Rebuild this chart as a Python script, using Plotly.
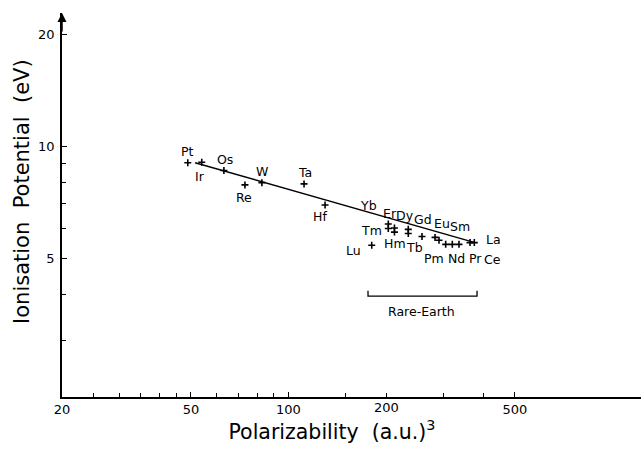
import math
import plotly.graph_objects as go

# --- data ---
metals = ["Pt", "Ir", "Os", "Re", "W", "Ta", "Hf"]
metal_pol = [48.9, 54.0, 63.2, 73.4, 82.8, 111.7, 129.7]
metal_ip = [9.02, 9.04, 8.59, 7.86, 7.97, 7.91, 6.94]

rare = ["Lu", "Yb", "Tm", "Er", "Hm", "Dy", "Tb", "Gd", "Eu", "Sm", "Pm", "Nd", "Pr", "Ce", "La"]
rare_pol = [180.7, 203.3, 203.3, 212.4, 212.4, 234.3, 234.3, 258.3, 283.4, 291.5, 305.7, 320.4, 336.0, 363.4, 374.6]
rare_ip = [5.41, 6.17, 6.00, 6.02, 5.87, 5.97, 5.82, 5.71, 5.68, 5.58, 5.44, 5.44, 5.44, 5.50, 5.50]

fit_pol = [51.5, 376.5]
fit_ip = [9.02, 5.50]

bracket_pol = [176.0, 176.0, 381.9, 381.9]
bracket_ip = [4.08, 3.95, 3.95, 4.08]
bracket_label = "Rare-Earth"
bracket_label_pol = 258.3
bracket_label_ip = 3.60

x_major = [20, 50, 100, 500]
x_major_text = ["20", "50", "100", "500"]
x_extra_label = 200          # drawn as a separate text label below the axis
x_minor = [25, 30, 35, 40, 45, 60, 70, 80, 90, 150, 200, 300, 400]
y_major = [5, 10, 20]
y_major_text = ["5", "10", "20"]
y_minor = [3, 4, 6, 7, 8, 9]

# label offsets (pixels) relative to each point
label_shift = {
    "Pt": (0, 11), "Ir": (-2, -14), "Os": (1, 11), "Re": (-1, -13), "W": (0, 11),
    "Ta": (1, 11), "Hf": (-5, -11),
    "Lu": (-18, -5), "Yb": (-20, 19), "Tm": (-17, -2), "Er": (-4, 15), "Hm": (1, -11),
    "Dy": (-3, 14), "Tb": (6, -14), "Gd": (1, 17), "Eu": (7, 14), "Sm": (21, 14),
    "Pm": (-12, -14), "Nd": (4, -14), "Pr": (16, -14), "Ce": (22, -17), "La": (19, 3),
}

FONT = "DejaVu Sans"

fig = go.Figure()
fig.add_trace(go.Scatter(x=fit_pol, y=fit_ip, mode="lines",
                         line=dict(color="black", width=1.5), showlegend=False, hoverinfo="skip"))
fig.add_trace(go.Scatter(x=metal_pol + rare_pol, y=metal_ip + rare_ip, mode="markers",
                         marker=dict(symbol="cross-thin", size=5, line=dict(color="black", width=1.6)),
                         text=metals + rare, showlegend=False))
fig.add_trace(go.Scatter(x=bracket_pol, y=bracket_ip, mode="lines",
                         line=dict(color="black", width=1.3), showlegend=False, hoverinfo="skip"))

# annotations on log axes are positioned in log10 units
for name, px, py in zip(metals + rare, metal_pol + rare_pol, metal_ip + rare_ip):
    dx, dy = label_shift[name]
    fig.add_annotation(x=math.log10(px), y=math.log10(py), xref="x", yref="y", text=name,
                       showarrow=False, xshift=dx, yshift=dy,
                       font=dict(family=FONT, size=12.5, color="black"))

fig.add_annotation(x=math.log10(bracket_label_pol), y=math.log10(bracket_label_ip), xref="x", yref="y",
                   text=bracket_label, showarrow=False, font=dict(family=FONT, size=12.5, color="black"))

# tick label for 200 on the x axis
fig.add_annotation(x=math.log10(x_extra_label), y=0, xref="x", yref="paper", text=str(x_extra_label),
                   showarrow=False, yanchor="top", yshift=-1, font=dict(family=FONT, size=13, color="black"))

# arrow at top of y axis
fig.add_annotation(x=0, y=1, xref="paper", yref="paper", text="", showarrow=True,
                   ax=0, ay=20, arrowhead=2, arrowsize=1.2, arrowwidth=1.5, arrowcolor="black")

NB = "&nbsp;"
fig.update_layout(
    width=641, height=454,
    margin=dict(l=62, r=0, t=13, b=57),
    paper_bgcolor="white", plot_bgcolor="white",
    font=dict(family=FONT, color="black"),
    xaxis=dict(type="log", range=[1.30103, 3.08807],
               tickmode="array", tickvals=x_major, ticktext=x_major_text,
               ticks="inside", ticklen=5, tickwidth=1.2, tickcolor="black",
               minor=dict(tickmode="array", tickvals=x_minor, ticks="inside", ticklen=4,
                          tickwidth=1.2, tickcolor="black", showgrid=False),
               showline=True, linecolor="black", linewidth=1.5, showgrid=False, zeroline=False,
               tickfont=dict(family=FONT, size=13),
               title=dict(text="Polarizability  (a.u.)<sup>3</sup>" + NB * 6,
                          font=dict(family=FONT, size=20.5), standoff=8)),
    yaxis=dict(type="log", range=[0.32531, 1.35757],
               tickmode="array", tickvals=y_major, ticktext=y_major_text,
               ticks="inside", ticklen=5, tickwidth=1.2, tickcolor="black",
               minor=dict(tickmode="array", tickvals=y_minor, ticks="inside", ticklen=4,
                          tickwidth=1.2, tickcolor="black", showgrid=False),
               showline=True, linecolor="black", linewidth=1.5, showgrid=False, zeroline=False,
               tickfont=dict(family=FONT, size=13), ticklabelstandoff=3,
               title=dict(text=NB * 4 + "Ionisation  Potential  (eV)",
                          font=dict(family=FONT, size=21), standoff=3)),
)

fig.write_html("out.html")
